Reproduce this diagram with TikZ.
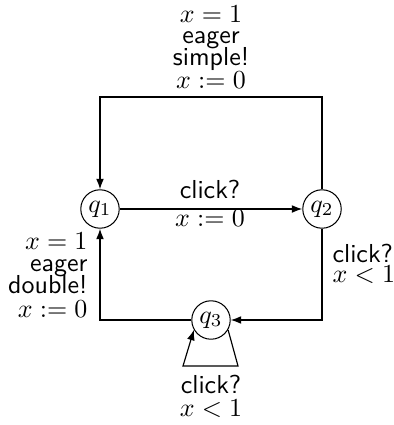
\documentclass[tikz,border=0pt]{standalone}
\usetikzlibrary{arrows.meta}
\begin{document}
\begin{tikzpicture}[x=0.385pt,y=-0.385pt,
  state/.style={draw,circle,minimum size=14.8pt,inner sep=0pt,font=\normalsize},
  lbl/.style={inner sep=0pt,font=\sffamily},
  edge/.style={draw,line width=0.45pt,-{Latex[length=4pt,width=3pt]}}]
\useasboundingbox (0,0) rectangle (393,425);
\node[state] (q1) at (100,209) {$q_1$};
\node[state] (q2) at (322,209) {$q_2$};
\node[state] (q3) at (211,320) {$q_3$};
\coordinate (tl) at (100,97);
\coordinate (tr) at (322,97);
\coordinate (bl) at (100,320);
\coordinate (br) at (322,320);
\coordinate (ll) at (183,366);
\coordinate (lr) at (238,366);
% edges
\draw[edge] (q2.north) -- (tr) -- (tl) -- (q1.north);
\draw[edge] (q1) -- (q2);
\draw[edge] (q2.south) -- (br) -- (q3.east);
\draw[edge] (q3.west) -- (bl) -- (q1.south);
\draw[edge] (q3.-30) -- (lr) -- (ll) -- (q3.-150);
% top labels
\node[lbl,anchor=base] (t1) at (211,23) {$x=1$};
\node[lbl,anchor=base] (t2) at (211,44) {eager};
\node[lbl,anchor=base] (t3) at (211,66) {simple!};
\node[lbl,anchor=base] (t4) at (211,89) {$x:=0$};
% middle labels
\node[lbl,anchor=base] (m1) at (210,198) {click?};
\node[lbl,anchor=base] (m2) at (210,226) {$x:=0$};
% left labels
\node[lbl,anchor=base east] (l1) at (88,249) {$x=1$};
\node[lbl,anchor=base east] (l2) at (88,271) {eager};
\node[lbl,anchor=base east] (l3) at (88,293) {double!};
\node[lbl,anchor=base east] (l4) at (88,317) {$x:=0$};
% right labels
\node[lbl,anchor=base west] (r1) at (332,262) {click?};
\node[lbl,anchor=base west] (r2) at (332,282) {$x<1$};
% bottom labels
\node[lbl,anchor=base] (b1) at (211,393) {click?};
\node[lbl,anchor=base] (b2) at (211,416) {$x<1$};
\end{tikzpicture}
\end{document}
